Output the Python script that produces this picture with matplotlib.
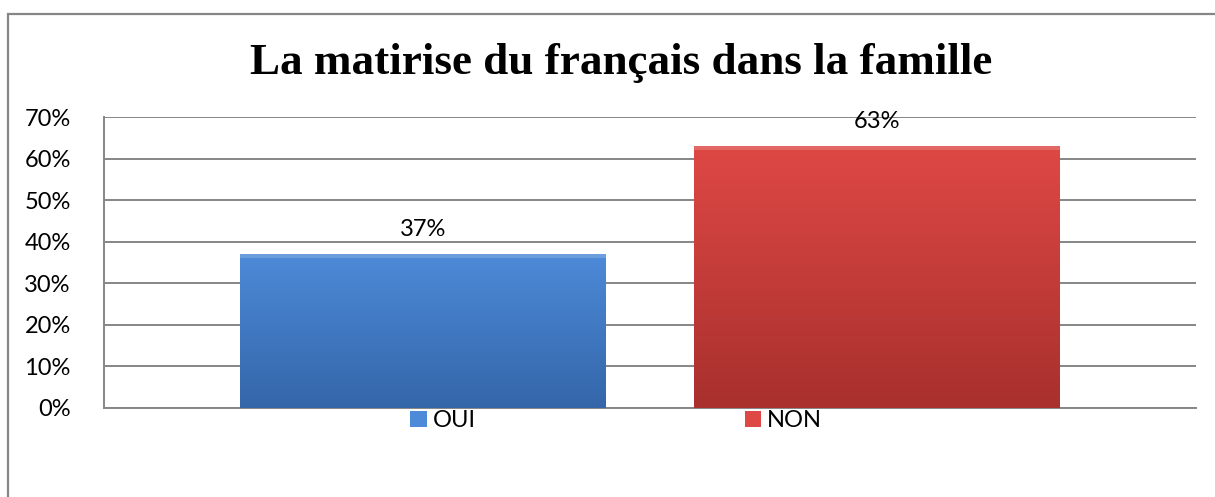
import numpy as np
from matplotlib import pyplot as plt
from matplotlib.patches import Rectangle
from matplotlib.colors import LinearSegmentedColormap

series = ['OUI', 'NON']
values = [37, 63]
labels = ['37%', '63%']
yticks = [0, 10, 20, 30, 40, 50, 60, 70]
colors_top = ['#4d8ad8', '#de4845']
colors_bottom = ['#3466a9', '#a8302d']

FONT = 'Lato'


def main():
    fig = plt.figure(figsize=(12.15, 4.97), dpi=100)

    # outer chart frame (only left and top visible in the crop)
    fig.add_artist(Rectangle((8 / 1215, -0.1), 1.2, 1 - 14 / 497 + 0.1,
                             transform=fig.transFigure, fill=False,
                             edgecolor='#868686', linewidth=1.6))

    ax = fig.add_axes([104 / 1215, 1 - 408 / 497, (1196 - 104) / 1215, (408 - 117) / 497])

    x = np.arange(len(series))
    width = 0.805
    bars = ax.bar(x, values, width=width, color=colors_top, zorder=3,
                  edgecolor='none', label=series)

    # vertical gradient inside every bar
    for bar, top, bottom in zip(bars, colors_top, colors_bottom):
        cmap = LinearSegmentedColormap.from_list('g', [bottom, top])
        grad = np.linspace(0, 1, 256).reshape(-1, 1)
        bx, by = bar.get_x(), bar.get_y()
        bw, bh = bar.get_width(), bar.get_height()
        im = ax.imshow(grad, cmap=cmap, origin='lower', aspect='auto',
                       extent=(bx, bx + bw, by, by + bh), zorder=4)
        im.set_clip_path(bar)
        # thin light bevel at the top
        ax.add_patch(Rectangle((bx, by + bh - 0.9), bw, 0.9, facecolor='white',
                               alpha=0.18, edgecolor='none', zorder=5))

    for xi, v, lab in zip(x, values, labels):
        ax.text(xi, v + 6.0, lab, ha='center', va='center', fontsize=17,
                family=FONT, color='black', zorder=6)

    ax.set_xlim(-0.702, 1.703)
    ax.set_ylim(0, 70)
    ax.set_yticks(yticks)
    ax.set_yticklabels([f'{t}%' for t in yticks], family=FONT, fontsize=17)
    ax.set_xticks([])
    ax.tick_params(axis='y', length=0, pad=24)
    ax.yaxis.grid(True, color='#868686', linewidth=1.4, zorder=0)
    ax.set_axisbelow(True)
    for side in ['top', 'right']:
        ax.spines[side].set_visible(False)
    for side in ['left', 'bottom']:
        ax.spines[side].set_color('#868686')
        ax.spines[side].set_linewidth(1.4)

    ax.legend(ncol=2, frameon=False, loc='upper center',
              bbox_to_anchor=(0.469, 0.025), handlelength=0.7,
              handleheight=0.7, handletextpad=0.25, columnspacing=11.4,
              prop={'family': FONT, 'size': 17}, borderaxespad=0)

    fig.text(0.511, 1 - 63 / 497, 'La matirise du français dans la famille',
             ha='center', va='center', fontsize=32.5, fontweight='bold',
             family='Liberation Serif')

    fig.savefig('out.png', dpi=100)


if __name__ == "__main__":
    main()
